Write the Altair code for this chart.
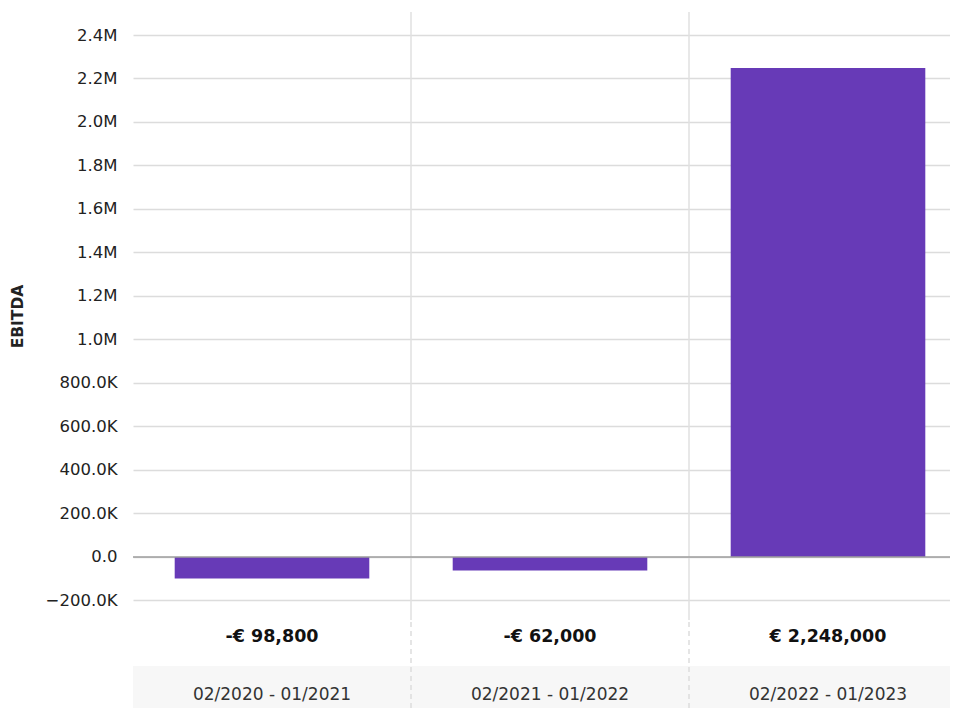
import altair as alt
import pandas as pd

# ---- data ----
periods = ["02/2020 - 01/2021", "02/2021 - 01/2022", "02/2022 - 01/2023"]
ebitda = [-98800, -62000, 2248000]
y_tick_values = [-200000, 0, 200000, 400000, 600000, 800000, 1000000, 1200000,
                 1400000, 1600000, 1800000, 2000000, 2200000, 2400000]


def euro(v):
    return ("-" if v < 0 else "") + "€ " + f"{abs(v):,}"


value_labels = [euro(v) for v in ebitda]

df = pd.DataFrame({"period": periods, "ebitda": ebitda, "label": value_labels,
                   "idx": list(range(len(periods)))})
df_sep = df[df["idx"] > 0]

FONT = "DejaVu Sans"
PURPLE = "#673AB7"

xscale = alt.Scale(domain=periods, range=[0, 834], paddingInner=0, paddingOuter=0)
yscale = alt.Scale(domain=[-289700, 2505750], nice=False, zero=False)

label_expr = ("abs(datum.value) >= 1000000 ? format(datum.value / 1000000, '.1f') + 'M' : "
              "(abs(datum.value) >= 1000 ? format(datum.value / 1000, '.1f') + 'K' : format(datum.value, '.1f'))")

X = alt.X("period:N", scale=xscale, axis=None)
X0 = alt.X("period:N", scale=xscale, axis=None, bandPosition=0)

bg = alt.Chart(df).mark_rect(color="#f7f7f7").encode(
    x=X, y=alt.value(654), y2=alt.value(700)
)

bars = alt.Chart(df).mark_bar(color=PURPLE, width=alt.RelativeBandSize(0.7)).encode(
    x=X,
    y=alt.Y("ebitda:Q", scale=yscale, title="EBITDA",
            axis=alt.Axis(values=y_tick_values, labelExpr=label_expr, domain=False, ticks=False,
                          labelPadding=16, labelFontSize=16.5, labelColor="#222", labelFont=FONT,
                          gridColor="#dcdcdc", gridWidth=1.5,
                          titleFont=FONT, titleFontSize=15.5, titleFontWeight="bold", titleColor="#222",
                          titleX=-108, titleY=304)),
)

sep_solid = alt.Chart(df_sep).mark_rule(color="#e0e0e0", strokeWidth=1.5).encode(
    x=X0, y=alt.value(0), y2=alt.value(608)
)
sep_dash = alt.Chart(df_sep).mark_rule(color="#dddddd", strokeWidth=1.5, strokeDash=[5, 4]).encode(
    x=X0, y=alt.value(610), y2=alt.value(700)
)

zero_line = alt.Chart(pd.DataFrame({"z": [0]})).mark_rule(color="#9e9e9e", strokeWidth=1.5).encode(
    y=alt.Y("z:Q", scale=yscale)
)

values_text = alt.Chart(df).mark_text(font=FONT, fontSize=17.5, fontWeight="bold", color="#111").encode(
    x=X, y=alt.value(625), text="label:N"
)
cat_text = alt.Chart(df).mark_text(font=FONT, fontSize=17, color="#333").encode(
    x=X, y=alt.value(683), text="period:N"
)

chart = alt.layer(bg, sep_solid, sep_dash, bars, zero_line, values_text, cat_text).properties(
    width=817, height=608,
    padding={"left": 125, "top": 4, "right": 0, "bottom": 88},
    autosize=alt.AutoSizeParams(type="none"),
).configure(font=FONT).configure_view(stroke=None, strokeWidth=0)

chart.save("out.html", embed_options={"renderer": "svg", "actions": False})
